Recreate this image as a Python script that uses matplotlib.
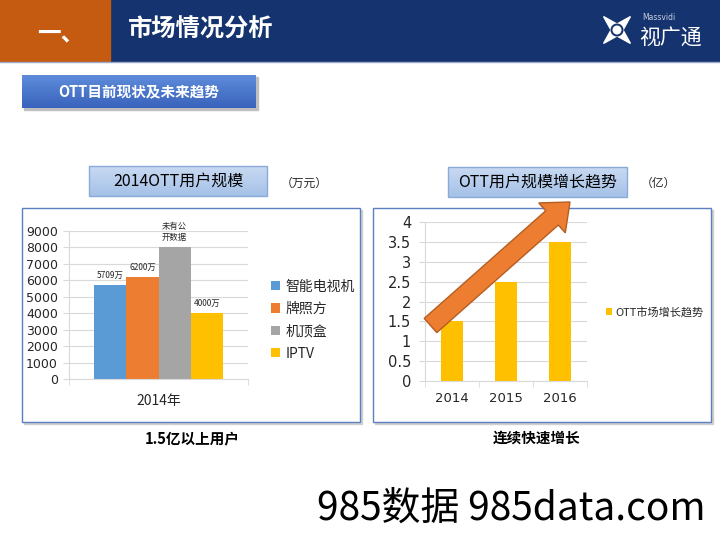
import matplotlib.pyplot as plt
import numpy as np
from matplotlib.patches import Rectangle, FancyArrow, Polygon, Circle

plt.rcParams['font.family'] = ['Noto Sans CJK SC', 'DejaVu Sans']

# left chart: 2014 OTT users (万)
brands = ['智能电视机', '牌照方', '机顶盒', 'IPTV']
users_2014 = [5709, 6200, 8000, 4000]
user_labels = ['5709万', '6200万', '未有公\n开数据', '4000万']
brand_colors = ['#5B9BD5', '#ED7D31', '#A5A5A5', '#FFC000']

# right chart: OTT users trend (亿)
years = ['2014', '2015', '2016']
ott_users = [1.5, 2.5, 3.5]

TXT = '#262626'
GRID = '#D9D9D9'

fig = plt.figure(figsize=(7.2, 5.4), dpi=100)

# background layer in pixel coordinates
bg = fig.add_axes([0, 0, 1, 1], zorder=0)
bg.axis('off')


def gradient(ax, x0, x1, y0, y1, top, bottom):
    c0 = np.array(plt.matplotlib.colors.to_rgb(top))
    c1 = np.array(plt.matplotlib.colors.to_rgb(bottom))
    t = np.linspace(0, 1, 64)[:, None, None]
    img = c0 * (1 - t) + c1 * t
    ax.imshow(img, extent=(x0, x1, y1, y0), aspect='auto', zorder=2)


# header
bg.add_patch(Rectangle((0, 0), 720, 61, color='#15336E', zorder=1))
bg.add_patch(Rectangle((0, 0), 110, 61, color='#C55A11', zorder=1))
bg.plot([0, 720], [61.5, 61.5], color='#9AA8C8', lw=1, zorder=1)
bg.text(61, 33, '一、', color='white', fontsize=17, fontweight='bold',
        ha='center', va='center', zorder=3)
bg.text(128, 30, '市场情况分析', color='white', fontsize=17.5, fontweight='bold',
        ha='left', va='center', zorder=3)

# logo
ang = np.deg2rad([-45, 45, 135, 225])
pts = []
for a in ang:
    pts.append((617 + 19 * np.cos(a), 30 + 19 * np.sin(a)))
    pts.append((617 + 6 * np.cos(a + np.pi / 4), 30 + 6 * np.sin(a + np.pi / 4)))
bg.add_patch(Polygon(pts, closed=True, color='white', zorder=3))
bg.add_patch(Circle((617, 30), 6.5, facecolor='#15336E', edgecolor='none', zorder=4))
bg.add_patch(Circle((617, 30), 4.5, facecolor='white', edgecolor='none', zorder=5))
bg.text(642, 17, 'Massvidi', color='#C8D0E0', fontsize=5.5, ha='left', va='center',
        family='DejaVu Sans', zorder=3)
bg.text(639, 39, '视广通', color='white', fontsize=15, ha='left', va='center', zorder=3)

# section button
bg.add_patch(Rectangle((24, 77), 234, 33, color='#BFBFBF', zorder=1))
gradient(bg, 22, 256, 75, 108, '#5E8CDA', '#3963BC')
bg.text(139, 91.5, 'OTT目前现状及未来趋势', color='white', fontsize=10.5,
        fontweight='bold', ha='center', va='center', zorder=3)

# chart frames
for fx in (22, 373):
    bg.add_patch(Rectangle((fx + 2, 210), 338, 214, color='#D0D0D0', zorder=1))
    bg.add_patch(Rectangle((fx, 208), 338, 214, facecolor='white',
                           edgecolor='#5B7FC0', lw=1, zorder=1.5))

# title boxes
gradient(bg, 89, 267, 166, 196, '#C9DAF2', '#A5C1E8')
bg.add_patch(Rectangle((89, 166), 178, 30, fill=False, edgecolor='#8AAAD8', lw=1, zorder=3))
bg.text(178, 181.5, '2014OTT用户规模', color='black', fontsize=11.5,
        ha='center', va='center', zorder=3)
bg.text(304, 183, '（万元）', color=TXT, fontsize=8.5, ha='center', va='center')

gradient(bg, 448, 627, 167, 197, '#C9DAF2', '#A5C1E8')
bg.add_patch(Rectangle((448, 167), 179, 30, fill=False, edgecolor='#8AAAD8', lw=1, zorder=3))
bg.text(537.5, 182.5, 'OTT用户规模增长趋势', color='black', fontsize=11.5,
        ha='center', va='center', zorder=3)
bg.text(658, 183, '（亿）', color=TXT, fontsize=8.5, ha='center', va='center')

# captions and watermark
bg.text(192, 438, '1.5亿以上用户', color='black', fontsize=10.5, fontweight='bold',
        ha='center', va='center')
bg.text(537, 438, '连续快速增长', color='black', fontsize=10.5, fontweight='bold',
        ha='center', va='center')
bg.text(511, 510, '985数据 985data.com', color='black', fontsize=28,
        ha='center', va='center')

bg.set_xlim(0, 720)
bg.set_ylim(540, 0)

# left chart
ax1 = fig.add_axes([69 / 720, 1 - 379 / 540, 179 / 720, 148 / 540], zorder=2)
ax1.set_facecolor('none')
bw = 0.18
offsets = (np.arange(len(brands)) - (len(brands) - 1) / 2) * bw
for off, val, col, name, lbl in zip(offsets, users_2014, brand_colors, brands, user_labels):
    ax1.bar(off, val, width=bw, color=col, label=name, zorder=2)
    ax1.annotate(lbl, (off, val), xytext=(0, 4), textcoords='offset points',
                 ha='center', va='bottom', fontsize=6, color=TXT, linespacing=1.3)
ax1.set_xlim(-0.5, 0.5)
ax1.set_ylim(0, 9000)
ax1.set_yticks(np.arange(0, 9001, 1000))
ax1.set_xticks([0])
ax1.set_xticklabels(['2014年'], fontsize=10, color=TXT)
ax1.set_xticks([-0.5, 0.5], minor=True)
ax1.tick_params(axis='x', which='major', length=0, pad=11)
ax1.tick_params(axis='x', which='minor', length=4, color=GRID)
ax1.tick_params(axis='y', length=4, color=GRID, labelsize=9, labelcolor=TXT, pad=4,
                labelfontfamily='DejaVu Sans')
ax1.grid(axis='y', color=GRID, lw=0.8, zorder=0)
ax1.set_axisbelow(True)
for s in ('top', 'right'):
    ax1.spines[s].set_visible(False)
ax1.spines['left'].set_color(GRID)
ax1.spines['bottom'].set_color(GRID)
ax1.legend(loc='center left', bbox_to_anchor=(264 / 720, 1 - 320 / 540),
           bbox_transform=fig.transFigure, frameon=False, fontsize=10,
           handlelength=0.65, handleheight=0.65, handletextpad=0.4,
           labelspacing=0.6, borderpad=0, labelcolor=TXT)

# right chart
ax2 = fig.add_axes([425 / 720, 1 - 381 / 540, 162 / 720, 159 / 540], zorder=2)
ax2.set_facecolor('none')
xs = np.arange(len(years))
ax2.bar(xs, ott_users, width=0.39, color='#FFC000', label='OTT市场增长趋势', zorder=2)
ax2.set_xlim(-0.5, len(years) - 0.5)
ax2.set_ylim(0, 4)
ax2.set_yticks(np.arange(0, 4.01, 0.5))
ax2.set_yticklabels(['0', '0.5', '1', '1.5', '2', '2.5', '3', '3.5', '4'])
ax2.set_xticks(xs)
ax2.set_xticklabels(years, fontsize=9.5, color=TXT)
ax2.set_xticks(np.arange(-0.5, len(years), 1), minor=True)
ax2.tick_params(axis='x', which='major', length=0, pad=8, labelfontfamily='DejaVu Sans')
ax2.tick_params(axis='x', which='minor', length=4, color=GRID)
ax2.tick_params(axis='y', length=4, color=GRID, labelsize=10.5, labelcolor=TXT, pad=6,
                labelfontfamily='DejaVu Sans')
ax2.grid(axis='y', color=GRID, lw=0.8, zorder=0)
ax2.set_axisbelow(True)
for s in ('top', 'right'):
    ax2.spines[s].set_visible(False)
ax2.spines['left'].set_color(GRID)
ax2.spines['bottom'].set_color(GRID)
ax2.legend(loc='center left', bbox_to_anchor=(600 / 720, 1 - 312 / 540),
           bbox_transform=fig.transFigure, frameon=False, fontsize=8,
           handlelength=0.55, handleheight=0.55, handletextpad=0.35,
           borderpad=0, labelcolor=TXT)

# growth arrow overlay
fg = fig.add_axes([0, 0, 1, 1], zorder=5)
fg.axis('off')
fg.set_facecolor('none')
fg.add_patch(FancyArrow(430.5, 325.5, 139.5, -123.5, width=19, head_width=40,
                        head_length=24, length_includes_head=True,
                        facecolor='#ED7D31', edgecolor='#B35E22', lw=1))
fg.set_xlim(0, 720)
fg.set_ylim(540, 0)

fig.savefig('out.png', dpi=100)
